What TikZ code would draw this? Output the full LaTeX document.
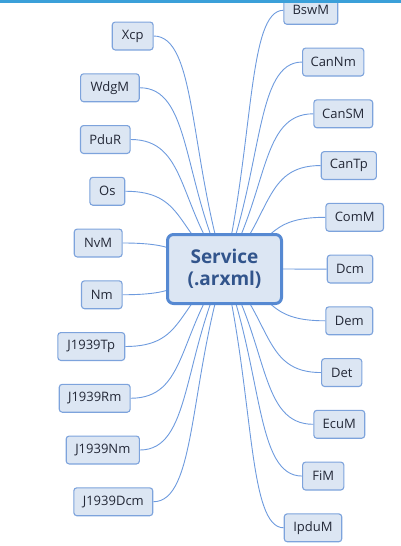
\documentclass[tikz,border=0pt]{standalone}
\usepackage{fontspec}
\setmainfont{Open Sans}
\usetikzlibrary{calc,backgrounds}
\definecolor{leaffill}{RGB}{220,230,243}
\definecolor{leafdraw}{RGB}{125,163,220}
\definecolor{rootdraw}{RGB}{86,137,210}
\definecolor{edgecol}{RGB}{110,155,222}
\definecolor{topbar}{RGB}{59,160,217}
\definecolor{roottext}{RGB}{50,85,140}
\definecolor{leaftext}{RGB}{35,40,55}
\newcommand\ledge[1]{\draw[edge] (root.center) .. controls ($(root.center)!0.5!(#1.east)$) and ($(#1.east)!0.6!(root.center |- #1.east)$) .. (#1.east);}
\newcommand\redge[1]{\draw[edge] (root.center) .. controls ($(root.center)!0.5!(#1.west)$) and ($(#1.west)!0.6!(root.center |- #1.west)$) .. (#1.west);}
\begin{document}
\begin{tikzpicture}[x=1pt,y=-1pt,
  leaf/.style={draw=leafdraw, fill=leaffill, line width=1.1pt, rounded corners=3pt,
    minimum height=27.9pt, inner sep=0pt, text=leaftext,
    font=\fontsize{13}{15}\selectfont},
  rootbox/.style={draw=rootdraw, fill=leaffill, line width=3pt, rounded corners=6pt,
    minimum width=114pt, minimum height=69pt, inner sep=0pt, align=center,
    text=roottext, font=\bfseries\fontsize{19}{21.5}\selectfont},
  edge/.style={draw=edgecol, line width=0.9pt}]
\useasboundingbox (0,0) rectangle (401,546);
\node[rootbox] (root) at (224.5,269) {Service\\(.arxml)};
% left leaves
\node[leaf, minimum width=40.9pt] (xcp) at (132.7,36) {Xcp};
\node[leaf, minimum width=58.6pt] (wdgm) at (109.9,87.75) {WdgM};
\node[leaf, minimum width=49.6pt] (pdur) at (105.3,139.5) {PduR};
\node[leaf, minimum width=34.9pt] (os) at (107.3,191.25) {Os};
\node[leaf, minimum width=47.9pt] (nvm) at (98.2,243) {NvM};
\node[leaf, minimum width=40.6pt] (nm) at (101.8,294.75) {Nm};
\node[leaf, minimum width=66.9pt] (jtp) at (91.3,346.5) {J1939Tp};
\node[leaf, minimum width=70.9pt] (jrm) at (94.7,398.25) {J1939Rm};
\node[leaf, minimum width=73.2pt] (jnm) at (102.8,450) {J1939Nm};
\node[leaf, minimum width=78.9pt] (jdcm) at (113.3,501.75) {J1939Dcm};
% right leaves
\node[leaf, minimum width=53.9pt] (bswm) at (310.8,10.3) {BswM};
\node[leaf, minimum width=61.2pt] (cannm) at (333.2,62.05) {CanNm};
\node[leaf, minimum width=58.9pt] (cansm) at (343.3,113.8) {CanSM};
\node[leaf, minimum width=55.2pt] (cantp) at (348.8,165.55) {CanTp};
\node[leaf, minimum width=57.6pt] (comm) at (354.7,217.3) {ComM};
\node[leaf, minimum width=45.5pt] (dcm) at (350,269.05) {Dcm};
\node[leaf, minimum width=46.9pt] (dem) at (349.3,320.8) {Dem};
\node[leaf, minimum width=40.2pt] (det) at (341.7,372.55) {Det};
\node[leaf, minimum width=50.9pt] (ecum) at (339.3,424.3) {EcuM};
\node[leaf, minimum width=41.2pt] (fim) at (323.2,476.05) {FiM};
\node[leaf, minimum width=57.5pt] (ipdum) at (313,527.8) {IpduM};
\begin{scope}[on background layer]
\ledge{xcp}\ledge{wdgm}\ledge{pdur}\ledge{os}\ledge{nvm}
\ledge{nm}\ledge{jtp}\ledge{jrm}\ledge{jnm}\ledge{jdcm}
\redge{bswm}\redge{cannm}\redge{cansm}\redge{cantp}\redge{comm}\redge{dcm}
\redge{dem}\redge{det}\redge{ecum}\redge{fim}\redge{ipdum}
\end{scope}
\fill[topbar] (0,0) rectangle (401,2.5);
\end{tikzpicture}
\end{document}
